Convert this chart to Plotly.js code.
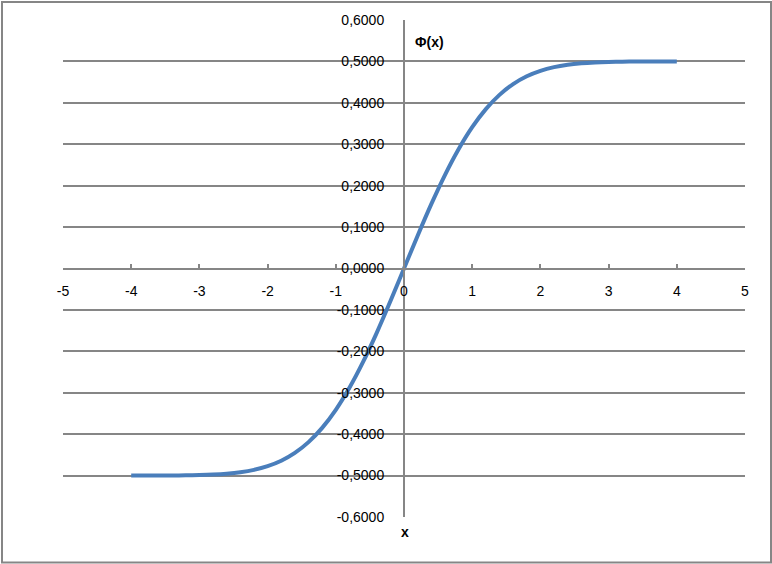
<!DOCTYPE html>
<html>
<head>
<meta charset="utf-8">
<script src="https://cdn.plot.ly/plotly-3.0.1.min.js"></script>
<style>
html,body{margin:0;padding:0;background:#fff;}
#chart{width:772px;height:564px;}
</style>
</head>
<body>
<div id="chart"></div>
<script>
// Laplace function values (table values), x from -4 to 4 step 0.2
const xValues = [-4.0,-3.8,-3.6,-3.4,-3.2,-3.0,-2.8,-2.6,-2.4,-2.2,-2.0,-1.8,-1.6,-1.4,-1.2,-1.0,-0.8,-0.6,-0.4,-0.2,
  0.0,0.2,0.4,0.6,0.8,1.0,1.2,1.4,1.6,1.8,2.0,2.2,2.4,2.6,2.8,3.0,3.2,3.4,3.6,3.8,4.0];
const phiValues = [-0.49997,-0.49993,-0.49984,-0.49966,-0.49931,-0.49865,-0.4974,-0.4953,-0.4918,-0.4861,-0.4772,-0.4641,-0.4452,-0.4192,-0.3849,-0.3413,-0.2881,-0.2257,-0.1554,-0.0793,
  0.0,0.0793,0.1554,0.2257,0.2881,0.3413,0.3849,0.4192,0.4452,0.4641,0.4772,0.4861,0.4918,0.4953,0.4974,0.49865,0.49931,0.49966,0.49984,0.49993,0.49997];

const xTickVals = [-5,-4,-3,-2,-1,0,1,2,3,4,5];
const xTickText = ['-5','-4','-3','-2','-1','0','1','2','3','4','5'];
const yTickVals = [-0.6,-0.5,-0.4,-0.3,-0.2,-0.1,0,0.1,0.2,0.3,0.4,0.5,0.6];
const yTickText = ['-0,6000','-0,5000','-0,4000','-0,3000','-0,2000','-0,1000','0,0000','0,1000','0,2000','0,3000','0,4000','0,5000','0,6000'];

const gray = '#868686';
const fontFam = 'Liberation Sans, Arial, sans-serif';

const trace = {
  x: xValues, y: phiValues, type: 'scatter', mode: 'lines',
  line: {color: '#4A7EBB', width: 4, shape: 'spline'},
  hoverinfo: 'skip', showlegend: false
};

const layout = {
  width: 772, height: 564,
  margin: {l: 63, r: 27, t: 20, b: 47, pad: 0},
  paper_bgcolor: '#fff', plot_bgcolor: '#fff',
  font: {family: fontFam, size: 14, color: '#000'},
  showlegend: false,
  xaxis: {
    range: [-5, 5], anchor: 'free', position: 0.5,
    tickvals: xTickVals, ticktext: xTickText,
    showline: true, linecolor: gray, linewidth: 2,
    ticks: 'inside', ticklen: 4, tickwidth: 2, tickcolor: gray,
    ticklabelstandoff: 10,
    showgrid: false, zeroline: false, fixedrange: true
  },
  yaxis: {
    range: [-0.6, 0.6], anchor: 'free', position: 0.5,
    tickvals: yTickVals, ticktext: yTickText,
    showline: true, linecolor: gray, linewidth: 2,
    ticks: '', ticklabelstandoff: 16,
    showgrid: true, gridcolor: gray, gridwidth: 2,
    zeroline: false, fixedrange: true
  },
  annotations: [
    {text: '<b>Φ(x)</b>', xref: 'x', yref: 'y', x: 0.381, y: 0.547, showarrow: false,
     xanchor: 'center', yanchor: 'middle',
     font: {family: fontFam, size: 14, color: '#000'}},
    {text: '<b>x</b>', xref: 'paper', yref: 'paper', x: (405-63)/682, y: (517-531.5)/497, showarrow: false,
     xanchor: 'center', yanchor: 'middle',
     font: {family: fontFam, size: 14, color: '#000'}}
  ],
  shapes: [
    {type: 'rect', xref: 'paper', yref: 'paper',
     x0: (2-63)/682, x1: (771-63)/682, y0: (517-562.5)/497, y1: (517-2)/497,
     line: {color: gray, width: 2}, layer: 'below'}
  ]
};

Plotly.newPlot('chart', [trace], layout, {staticPlot: true, displayModeBar: false});
</script>
</body>
</html>
